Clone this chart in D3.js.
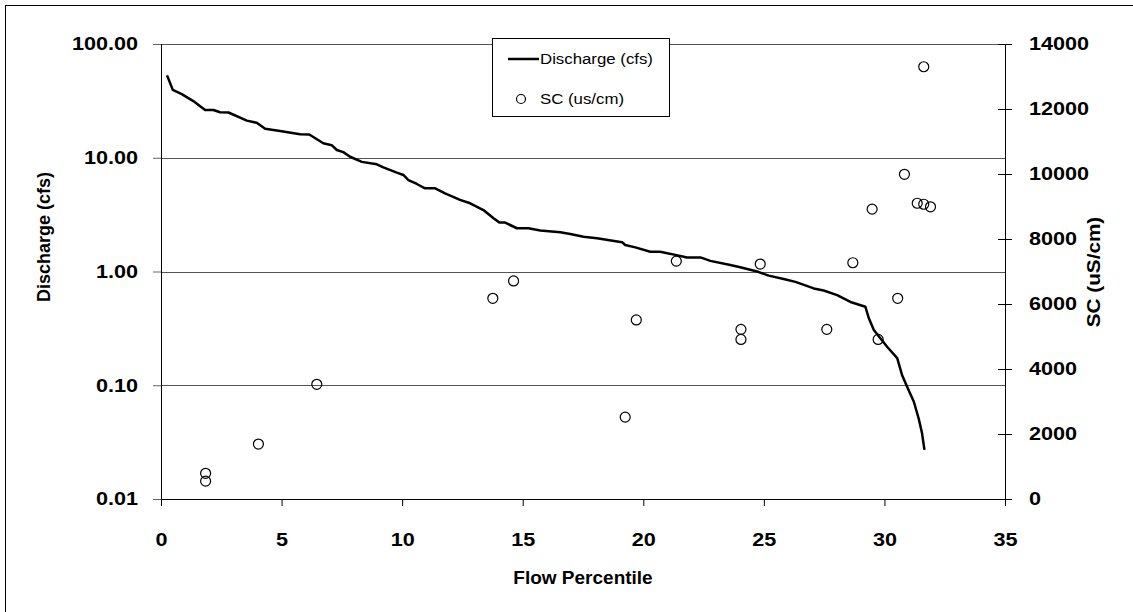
<!DOCTYPE html>
<html>
<head>
<meta charset="utf-8">
<script src="https://cdn.jsdelivr.net/npm/d3@7"></script>
<style>
  body { margin: 0; background: #fff; }
  svg { font-family: "Liberation Sans", Arial, sans-serif; }
</style>
</head>
<body>
<div id="chart"></div>
<script>
// discharge duration curve (flow percentile vs cfs)
var flowPct = [0.25, 0.49, 0.86, 1.34, 1.83, 2.17, 2.45, 2.8, 3.56, 3.97, 4.32, 4.87, 5.77, 6.15,
  6.73, 7.08, 7.29, 7.56, 7.84, 8.33, 8.95, 9.22, 9.78, 10.05, 10.26, 10.61, 10.95, 11.37, 11.78,
  12.4, 12.82, 13.37, 13.79, 14.04, 14.27, 14.76, 15.24, 15.73, 16.56, 16.97, 17.52, 18.08, 19.12,
  19.25, 19.67, 20.29, 20.7, 21.33, 21.81, 22.37, 22.78, 23.61, 24.02, 24.72, 25.2, 25.82, 26.31,
  27.07, 27.48, 28.04, 28.59, 29.21, 29.35, 29.56, 29.83, 30.11, 30.53, 30.73, 30.94, 31.22, 31.42,
  31.56, 31.66];
var discharge = [53, 39.5, 36.3, 31.5, 26.3, 26.3, 25.1, 25.0, 21.2, 20.3, 18.0, 17.3, 16.1, 16.0,
  13.4, 12.9, 11.7, 11.2, 10.2, 9.2, 8.75, 8.24, 7.4, 7.06, 6.37, 5.88, 5.38, 5.38, 4.87,
  4.26, 3.98, 3.47, 2.94, 2.69, 2.69, 2.4, 2.4, 2.29, 2.21, 2.14, 2.02, 1.96, 1.81,
  1.71, 1.63, 1.49, 1.49, 1.40, 1.33, 1.33, 1.24, 1.14, 1.09, 1.0, 0.92, 0.86, 0.81,
  0.71, 0.68, 0.62, 0.54, 0.49, 0.39, 0.306, 0.259, 0.218, 0.173, 0.123, 0.097, 0.0716, 0.051,
  0.0378, 0.027];

// specific conductance samples
var scPct = [1.85, 1.85, 4.04, 6.46, 13.76, 14.62, 19.25, 19.71, 21.37, 24.05, 24.05, 24.85,
  27.61, 28.69, 29.49, 29.74, 30.55, 30.83, 31.36, 31.63, 31.91, 31.63];
var scValues = [790, 550, 1690, 3530, 6175, 6710, 2520, 5510, 7320, 5220, 4910, 7230,
  5220, 7270, 8920, 4910, 6175, 9990, 9100, 9070, 8990, 13300];

var xTicks = [0, 5, 10, 15, 20, 25, 30, 35];
var yLeftTicks = [0.01, 0.1, 1, 10, 100];
var yRightTicks = [0, 2000, 4000, 6000, 8000, 10000, 12000, 14000];
var legendLabels = ["Discharge (cfs)", "SC (us/cm)"];

var margin = { top: 44, right: 128, bottom: 113, left: 161 },
    width = 1133 - margin.left - margin.right,
    height = 612 - margin.top - margin.bottom;

var svg = d3.select("#chart").append("svg")
  .attr("width", 1133)
  .attr("height", 612);

// outer chart frame (runs off the right and bottom edges)
svg.append("rect")
  .attr("x", 5.5).attr("y", 5.5)
  .attr("width", 1140).attr("height", 620)
  .attr("fill", "none").attr("stroke", "#000").attr("stroke-width", 1);

var g = svg.append("g")
  .attr("transform", "translate(" + margin.left + "," + margin.top + ")");

var x = d3.scaleLinear().domain([0, 35]).range([0, width]);
var y = d3.scaleLog().domain([0.01, 100]).range([height, 0]);
var y2 = d3.scaleLinear().domain([0, 14000]).range([height, 0]);

// wide glyphs like the original
function stretch(sel, k) {
  sel.each(function () {
    var w = this.getComputedTextLength();
    d3.select(this).attr("textLength", w * k).attr("lengthAdjust", "spacingAndGlyphs");
  });
}

// gridlines
g.selectAll(".grid")
  .data(yLeftTicks.filter(function (d) { return d > 0.01; }))
  .enter().append("line")
  .attr("class", "grid")
  .attr("x1", 0).attr("x2", width)
  .attr("y1", function (d) { return Math.round(y(d)) + 0.5; })
  .attr("y2", function (d) { return Math.round(y(d)) + 0.5; })
  .attr("stroke", "#555").attr("stroke-width", 1);

var yAxis = g.append("g").attr("class", "y-axis")
  .call(d3.axisLeft(y).tickValues(yLeftTicks).tickFormat(d3.format(".2f")).tickSize(8).tickPadding(15));
yAxis.selectAll(".tick line").attr("stroke", "#666");

var xAxis = g.append("g").attr("class", "x-axis")
  .attr("transform", "translate(0," + height + ")")
  .call(d3.axisBottom(x).tickValues(xTicks).tickSize(7).tickPadding(27));

var yAxis2 = g.append("g").attr("class", "y2-axis")
  .attr("transform", "translate(" + width + ",0)")
  .call(d3.axisRight(y2).tickValues(yRightTicks).tickFormat(d3.format("d")).tickSize(7).tickPadding(17));
yAxis2.selectAll(".tick line").attr("x1", -7);

svg.selectAll(".tick text")
  .attr("font-family", "Liberation Sans, Arial, sans-serif")
  .attr("font-size", 18)
  .attr("font-weight", "bold")
  .attr("fill", "#000")
  .call(stretch, 1.2);
svg.selectAll(".domain").attr("stroke", "#000");
svg.selectAll(".x-axis .tick line, .y2-axis .tick line").attr("stroke", "#000");

// axis titles
svg.append("text")
  .attr("x", margin.left + width / 2).attr("y", 584)
  .attr("text-anchor", "middle")
  .attr("font-size", 19).attr("font-weight", "bold")
  .text("Flow Percentile");

svg.append("text")
  .attr("transform", "translate(50,237) rotate(-90)")
  .attr("text-anchor", "middle")
  .attr("font-size", 18).attr("font-weight", "bold")
  .text("Discharge (cfs)");

svg.append("text")
  .attr("transform", "translate(1100,272) rotate(-90)")
  .attr("text-anchor", "middle")
  .attr("font-size", 18).attr("font-weight", "bold")
  .text("SC (uS/cm)")
  .call(stretch, 1.15);

// discharge line
var line = d3.line()
  .x(function (d, i) { return x(flowPct[i]); })
  .y(function (d) { return y(d); });

g.append("path")
  .datum(discharge)
  .attr("d", line)
  .attr("fill", "none")
  .attr("stroke", "#000")
  .attr("stroke-width", 2.5)
  .attr("stroke-linejoin", "round");

// SC markers
g.selectAll(".sc")
  .data(scValues)
  .enter().append("circle")
  .attr("class", "sc")
  .attr("cx", function (d, i) { return x(scPct[i]); })
  .attr("cy", function (d) { return y2(d); })
  .attr("r", 5)
  .attr("fill", "none")
  .attr("stroke", "#000")
  .attr("stroke-width", 1.2);

// legend
var legend = svg.append("g").attr("transform", "translate(492,38)");
legend.append("rect")
  .attr("x", 0.5).attr("y", 0.5)
  .attr("width", 177).attr("height", 78)
  .attr("fill", "#fff").attr("stroke", "#000");
legend.append("line")
  .attr("x1", 16).attr("x2", 47).attr("y1", 21).attr("y2", 21)
  .attr("stroke", "#000").attr("stroke-width", 2.5);
legend.append("circle")
  .attr("cx", 29).attr("cy", 61).attr("r", 4.5)
  .attr("fill", "none").attr("stroke", "#000").attr("stroke-width", 1.2);
legend.selectAll(".lt")
  .data(legendLabels)
  .enter().append("text")
  .attr("class", "lt")
  .attr("x", 48)
  .attr("y", function (d, i) { return 26 + i * 40; })
  .attr("font-size", 14)
  .text(function (d) { return d; })
  .call(stretch, 1.2);
</script>
</body>
</html>
